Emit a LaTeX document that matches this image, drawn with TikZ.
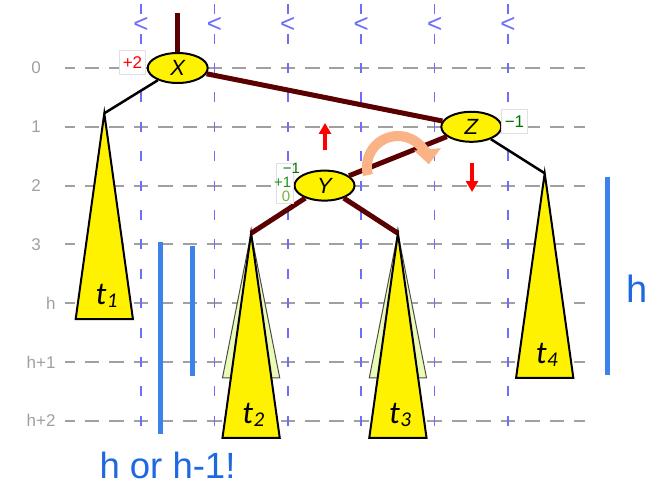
\documentclass[tikz,border=0pt]{standalone}
\usepackage{fontspec}
\setmainfont{Liberation Sans}
\newfontfamily\subtreefont{Carlito}
\usetikzlibrary{shapes.geometric,arrows.meta,positioning}

\definecolor{gridgray}{RGB}{160,160,160}
\definecolor{gridblue}{RGB}{110,110,250}
\definecolor{edgebrown}{RGB}{90,0,0}
\definecolor{barblue}{RGB}{60,130,235}
\definecolor{hblue}{RGB}{30,105,225}
\definecolor{ghostyellow}{RGB}{235,250,180}
\definecolor{peach}{RGB}{250,178,135}
\definecolor{baldark}{RGB}{0,115,0}
\definecolor{balmid}{RGB}{30,150,30}
\definecolor{ballight}{RGB}{115,180,60}

\begin{document}
\begin{tikzpicture}[x=73.4pt, y=-58.8pt,
    avl/.style={ellipse, draw=black, line width=2pt, fill=yellow, minimum width=60pt, minimum height=30pt, inner sep=0pt, font=\fontsize{22}{22}\selectfont\itshape},
    balance/.style={draw=black!12, fill=white, inner sep=0pt, minimum width=26pt, minimum height=24pt, font=\fontsize{17}{17}\selectfont},
    heavy/.style={edgebrown, line width=5pt},
    light/.style={black, line width=2.5pt},
    subtree/.style={fill=yellow, draw=black, line width=2pt},
    oldtree/.style={fill=ghostyellow, draw=black!70, line width=1pt},
    bar/.style={barblue, line width=5pt},
    rowlabel/.style={text=gridgray, font=\fontsize{17}{17}\selectfont},
    ystack/.style={font=\fontsize{15}{15}\selectfont, inner sep=0pt},
    hlabel/.style={text=hblue, inner sep=0pt}]

    % Frame
    \useasboundingbox (-1.921,-1.1565) rectangle (6.989,7.109);

    % Grid
    \foreach \r in {0,...,6}
        \draw[gridgray, line width=2pt, dash pattern=on 14.7pt off 9.77pt, dash phase=4.76pt] (-1.035,\r) -- (6.049,\r);
    \foreach \c in {0,...,5} {
        \draw[gridblue, line width=1.5pt, dash pattern=on 10pt off 19.4pt] (\c,-1.085) -- (\c,6.085);
        \node[text=gridblue, font=\fontsize{26}{26}\selectfont, inner sep=0pt] (less\c) at (\c,-0.73) {<};
    }

    % Levels
    \foreach \r in {0,1,2,3}
        \node[rowlabel] (row\r) at (-1.43,\r) {\r};
    \foreach \r/\lab in {4/h,5/h+1,6/h+2}
        \node[rowlabel, anchor=east] (row\r) at (-1.117,\r) {\lab};

    % Subtrees (old shapes first)
    \foreach \x in {1.5,3.5}
        \filldraw[oldtree] (\x,2.81) -- (\x-0.39,5.27) -- (\x+0.39,5.27) -- cycle;
    \foreach \tree/\sub/\x/\ya/\yb in {t1/1/-0.5/0.77/4.27, t2/2/1.5/2.81/6.29, t3/3/3.5/2.81/6.29, t4/4/5.5/1.79/5.27} {
        \coordinate (\tree) at (\x,\ya);
        \filldraw[subtree] (\tree) -- (\x-0.39,\yb) -- (\x+0.39,\yb) -- cycle;
        \node[anchor=base, inner sep=0pt, font=\subtreefont\itshape\fontsize{32}{32}\selectfont] (lab\tree) at (\x+0.03,\yb-0.25) {t\kern0.5pt\raisebox{-3pt}{\fontsize{21}{21}\selectfont\sub}};
    }

    % Nodes
    \node[avl] (X) at (0.5,0) {X};
    \node[avl] (Z) at (4.5,1) {Z};
    \node[avl] (Y) at (2.5,2) {Y};
    \coordinate (root) at (0.5,-0.935);

    % Edges
    \draw[heavy] (X) -- (root);
    \draw[heavy] (X) -- (Z);
    \draw[heavy] (Z) -- (Y);
    \draw[heavy] (Y) -- (t2);
    \draw[heavy] (Y) -- (t3);
    \draw[light] (X) -- (t1);
    \draw[light] (Z) -- (t4);

    % Balance factors
    \node[balance, text=red, left=1pt of X, yshift=5.5pt] (balX) {+2};
    \node[balance, text=baldark, right=-1pt of Z, yshift=5.5pt] (balZ) {−1};
    \node[draw=black!12, fill=white, inner sep=0pt, minimum width=17pt, minimum height=40pt, left=0pt of Y, yshift=2pt] (balY) {};
    \node[ystack, text=baldark] (balY1) at (2.05,1.71) {−1};
    \node[ystack, text=balmid] (balY2) at (1.93,1.94) {+1};
    \node[ystack, text=ballight] (balY3) at (1.975,2.19) {0};

    % Moves
    \draw[red, line width=3.5pt, -{Triangle[width=12pt,length=11pt]}] (2.507,1.395) -- (2.507,0.935);
    \draw[red, line width=3.5pt, -{Triangle[width=12pt,length=11pt]}] (4.51,1.616) -- (4.51,2.109);
    \begin{scope}[shift={(3.5,1.684)}, x=1pt, y=1pt]
        \draw[peach, line width=10pt, -{Triangle[width=26pt,length=15pt]}] (195:31) arc[start angle=195, end angle=5, radius=31];
    \end{scope}

    % Heights
    \draw[bar] (6.362,1.854) -- (6.362,5.22);
    \draw[bar] (0.259,2.959) -- (0.259,6.224);
    \draw[bar] (0.708,3.027) -- (0.708,5.238);
    \node[hlabel, font=\fontsize{38}{38}\selectfont] (hright) at (6.764,3.758) {h};
    \node[hlabel, anchor=base, font=\fontsize{36.5}{36.5}\selectfont] (hleft) at (0.361,6.98) {h or h-1!};
\end{tikzpicture}
\end{document}
